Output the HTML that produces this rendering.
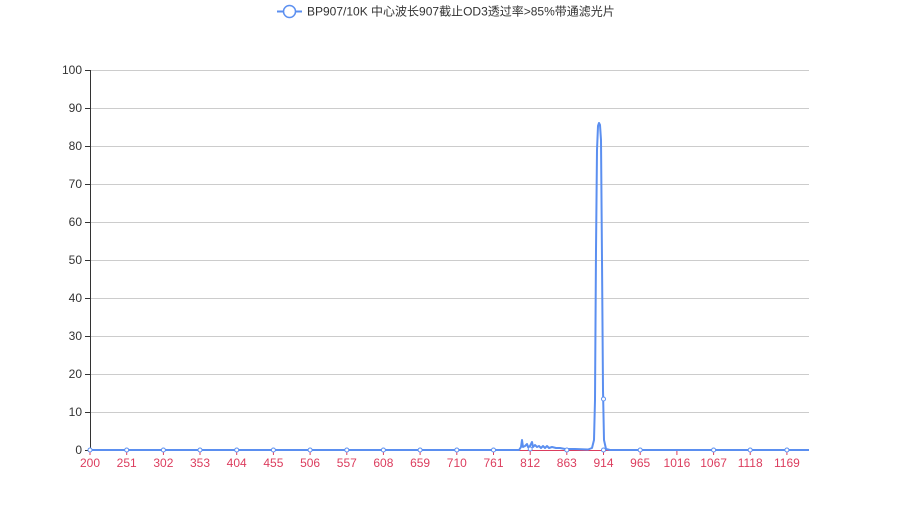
<!DOCTYPE html>
<html><head><meta charset="utf-8"><style>
body{margin:0;background:#fff;}
text{font-family:"Liberation Sans","Noto Sans CJK SC",sans-serif;font-size:12px;}
</style></head><body>
<svg width="900" height="500" xmlns="http://www.w3.org/2000/svg">
<g stroke="#ccc" stroke-width="1">
<line x1="90" x2="809" y1="70.5" y2="70.5"/>
<line x1="90" x2="809" y1="108.5" y2="108.5"/>
<line x1="90" x2="809" y1="146.5" y2="146.5"/>
<line x1="90" x2="809" y1="184.5" y2="184.5"/>
<line x1="90" x2="809" y1="222.5" y2="222.5"/>
<line x1="90" x2="809" y1="260.5" y2="260.5"/>
<line x1="90" x2="809" y1="298.5" y2="298.5"/>
<line x1="90" x2="809" y1="336.5" y2="336.5"/>
<line x1="90" x2="809" y1="374.5" y2="374.5"/>
<line x1="90" x2="809" y1="412.5" y2="412.5"/>
</g>
<g stroke="#333" stroke-width="1">
<line x1="90.5" x2="90.5" y1="70" y2="450"/>
<line x1="85" x2="90" y1="70.5" y2="70.5"/><line x1="85" x2="90" y1="108.5" y2="108.5"/>
<line x1="85" x2="90" y1="146.5" y2="146.5"/><line x1="85" x2="90" y1="184.5" y2="184.5"/>
<line x1="85" x2="90" y1="222.5" y2="222.5"/><line x1="85" x2="90" y1="260.5" y2="260.5"/>
<line x1="85" x2="90" y1="298.5" y2="298.5"/><line x1="85" x2="90" y1="336.5" y2="336.5"/>
<line x1="85" x2="90" y1="374.5" y2="374.5"/><line x1="85" x2="90" y1="412.5" y2="412.5"/>
<line x1="85" x2="90" y1="450.5" y2="450.5"/>
</g>
<g fill="#333" text-anchor="end">
<text x="82" y="74">100</text><text x="82" y="112">90</text><text x="82" y="150">80</text>
<text x="82" y="188">70</text><text x="82" y="226">60</text><text x="82" y="264">50</text>
<text x="82" y="302">40</text><text x="82" y="340">30</text><text x="82" y="378">20</text>
<text x="82" y="416">10</text><text x="82" y="454">0</text>
</g>
<line x1="90" x2="809" y1="450.5" y2="450.5" stroke="#dc3d5e"/>
<g stroke="#dc3d5e" id="xt"></g>
<g fill="#dc3d5e" text-anchor="middle" id="xl"></g>
<path id="ser" fill="none" stroke="#5b8ff0" stroke-width="2" stroke-linejoin="round"/>
<g id="mk" fill="#fff" stroke="#5b8ff0" stroke-width="1"></g>
<line x1="277" x2="302" y1="11.5" y2="11.5" stroke="#5b8ff0" stroke-width="2"/>
<circle cx="289.5" cy="11.5" r="6" fill="#fff" stroke="#5b8ff0" stroke-width="1.5"/>
<text x="307" y="15.5" fill="#333">BP907/10K 中心波长907截止OD3透过率&gt;85%带通滤光片</text>
</svg>
<script>
var ns="http://www.w3.org/2000/svg",xt=document.getElementById('xt'),xl=document.getElementById('xl'),mk=document.getElementById('mk');
for(var i=0;i<20;i++){var x=90+i*36.68;
var l=document.createElementNS(ns,'line');l.setAttribute('x1',x.toFixed(1));l.setAttribute('x2',x.toFixed(1));l.setAttribute('y1',450);l.setAttribute('y2',455);xt.appendChild(l);
var t=document.createElementNS(ns,'text');t.setAttribute('x',x.toFixed(1));t.setAttribute('y',467);t.textContent=200+51*i;xl.appendChild(t);
if(i!=16){var c=document.createElementNS(ns,'circle');c.setAttribute('cx',x.toFixed(1));c.setAttribute('cy',i==12?449:450);c.setAttribute('r',2);mk.appendChild(c);}}
var c=document.createElementNS(ns,'circle');c.setAttribute('cx',603.5);c.setAttribute('cy',399);c.setAttribute('r',2);mk.appendChild(c);
var d="M90 450 L519 450 L521 447 L522 440 L523 447 L525 446 L527 444 L528 447 L530 446 L532 442 L533 447 L535 445 L537 447 L539 446 L541 448 L543 446 L545 448 L547 446 L549 448 L552 447 L556 448 L560 448 L565 449 L575 449 L588 449.5 L592 448 L594 440 L595 400 L596 250 L597 150 L598 126 L599 123 L600 125 L601 140 L602 260 L603 390 L604 440 L606 449 L610 450 L809 450";
document.getElementById('ser').setAttribute('d',d);
</script>
</body></html>
